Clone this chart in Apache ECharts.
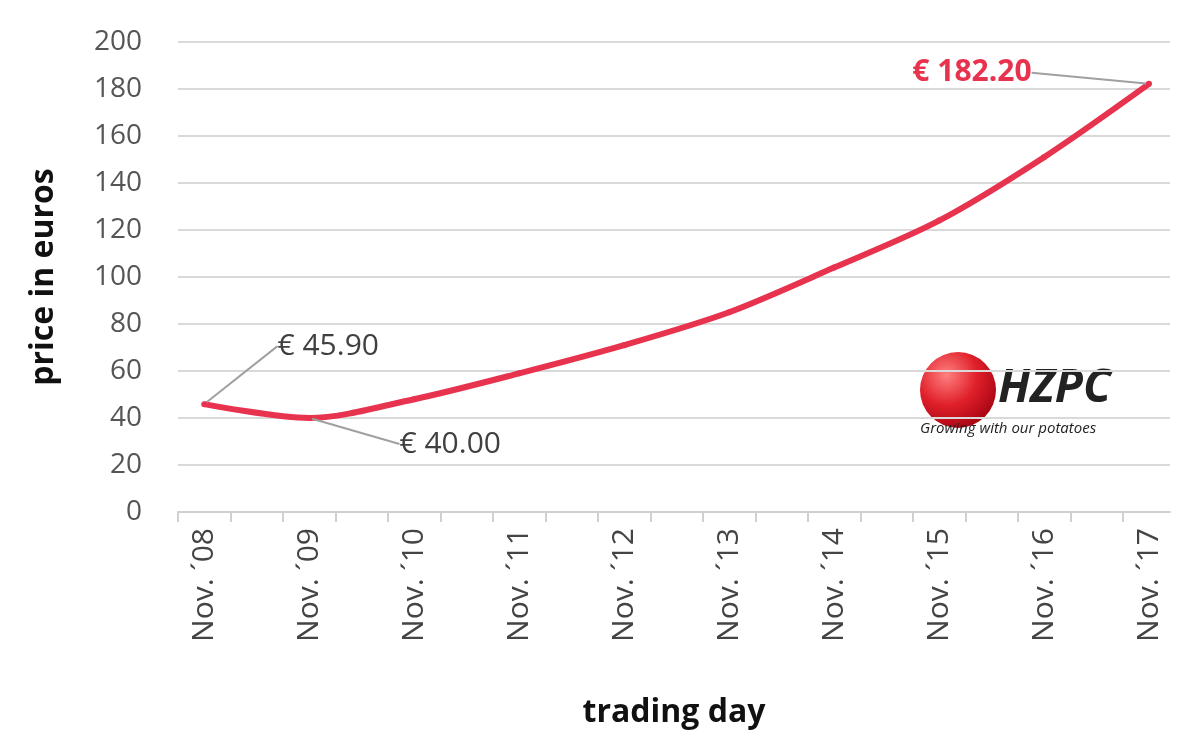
<!DOCTYPE html>
<html style="height: 100%">
<head>
    <meta charset="utf-8">
</head>
<body style="height: 100%; margin: 0; background: #fff">
<div id="chart" style="width: 1200px; height: 743px"></div>
<script src="https://cdn.jsdelivr.net/npm/echarts@6/dist/echarts.min.js"></script>
<script type="text/javascript">
    // data
    var days = ['Nov. \u00b408', 'Nov. \u00b409', 'Nov. \u00b410', 'Nov. \u00b411', 'Nov. \u00b412',
        'Nov. \u00b413', 'Nov. \u00b414', 'Nov. \u00b415', 'Nov. \u00b416', 'Nov. \u00b417'];
    var prices = [45.9, 40.0, 48, 59, 71, 85, 104, 124, 151, 182.2];
    var callouts = {0: '\u20ac 45.90', 1: '\u20ac 40.00', 9: '\u20ac 182.20'};
    var calloutShift = {0: [124, -35], 1: [141, 49], 9: [-177, 12]};

    var red = '#e8334f';
    var chart = echarts.init(document.getElementById('chart'));

    var seriesData = prices.map(function (v, i) {
        var pt = [i, v];
        if (!callouts[i]) return pt;
        var big = i === 9;
        return {
            value: pt,
            label: {
                show: true,
                formatter: callouts[i],
                fontSize: 30,
                fontFamily: 'Open Sans',
                fontWeight: big ? 'bold' : 'normal',
                color: big ? red : '#404040'
            },
            labelLine: {show: true, lineStyle: {color: '#a0a0a0', width: 2}}
        };
    });

    var tickPos = [];
    for (var t = 0; t < 19; t++) tickPos.push(-0.25 + t * 0.5);

    chart.setOption({
        animation: false,
        grid: {left: 178, right: 30, top: 42, bottom: 231},
        xAxis: {
            type: 'value',
            min: -0.25, max: 9.2,
            name: 'trading day',
            nameLocation: 'middle',
            nameGap: 185,
            nameTextStyle: {fontSize: 32, fontWeight: 'bold', color: '#111', fontFamily: 'Open Sans'},
            splitLine: {show: false},
            axisLine: {onZero: false, lineStyle: {color: '#d0d0d0', width: 2}},
            axisTick: {show: true, length: 10, customValues: tickPos, lineStyle: {color: '#d0d0d0', width: 2}},
            axisLabel: {
                rotate: 90, fontSize: 30, color: '#444', margin: 16, fontFamily: 'Open Sans',
                customValues: [0, 1, 2, 3, 4, 5, 6, 7, 8, 9],
                formatter: function (v) { return days[Math.round(v)]; }
            }
        },
        yAxis: {
            type: 'value',
            min: 0, max: 200, interval: 20,
            name: 'price in euros',
            nameLocation: 'middle',
            nameGap: 118,
            nameTextStyle: {fontSize: 32, fontWeight: 'bold', color: '#111', fontFamily: 'Open Sans'},
            axisLine: {show: false},
            axisTick: {show: false},
            axisLabel: {fontSize: 28, color: '#555', margin: 36, fontFamily: 'Open Sans'},
            splitLine: {lineStyle: {color: '#d9d9d9', width: 2}}
        },
        series: [{
            type: 'line',
            data: seriesData,
            smooth: 0.3,
            symbol: 'circle',
            symbolSize: 6,
            itemStyle: {color: red},
            lineStyle: {color: red, width: 6},
            labelLayout: function (p) {
                var s = calloutShift[p.dataIndex];
                if (!s) return {};
                return {dx: s[0], dy: s[1]};
            }
        }],
        graphic: [
            {type: 'circle', left: 920, top: 352, shape: {r: 38}, style: {
                fill: new echarts.graphic.RadialGradient(0.35, 0.3, 0.8, [
                    {offset: 0, color: '#ff8080'}, {offset: 0.5, color: '#e0202a'}, {offset: 1, color: '#a00010'}])
            }},
            {type: 'text', left: 998, top: 366, style: {text: 'HZPC', font: 'italic bold 46px "Open Sans"', fill: '#222'}},
            {type: 'text', left: 920, top: 421, style: {text: 'Growing with our potatoes', font: 'italic 15px "Open Sans"', fill: '#222'}}
        ]
    });
</script>
</body>
</html>
